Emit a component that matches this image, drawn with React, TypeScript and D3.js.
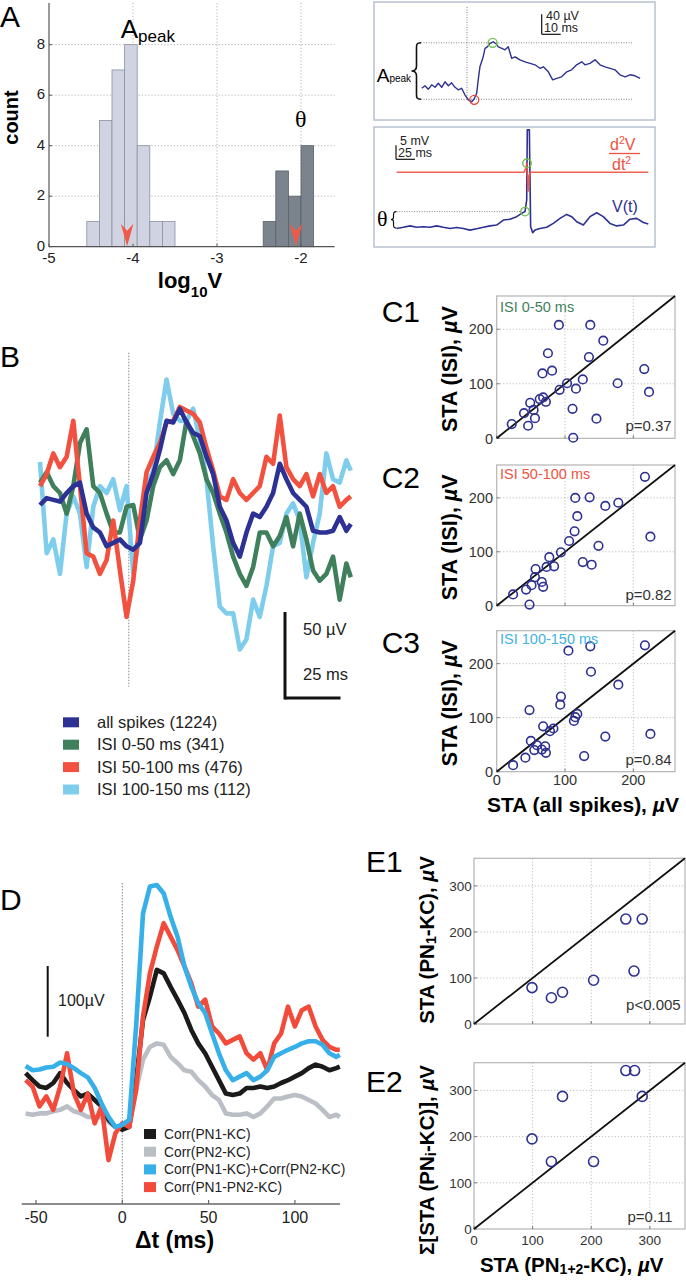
import React from 'react';
import * as d3 from 'd3';

const FONT = "'Liberation Sans', Arial, Helvetica, sans-serif";
const SERIF = "'Liberation Serif', 'DejaVu Serif', 'Times New Roman', serif";

// ---------- Panel A histogram ----------
const aLightEdges = [-4.55, -4.4, -4.25, -4.1, -3.95, -3.8, -3.65, -3.5];
const aLightCounts = [1, 5, 7, 8, 4, 1, 1];
const aDarkEdges = [-2.45, -2.3, -2.15, -2.0, -1.85];
const aDarkCounts = [1, 3, 2, 4];
const aMedians = [-4.07, -2.06];
const aXTicks = [-5, -4, -3, -2];
const aYTicks = [0, 2, 4, 6, 8];

// ---------- Panel A inset 1 (STA, ms / µV) ----------
const i1T = [-23.8, -22.1, -20.4, -18.6, -16.8, -15.1, -13.3, -11.6, -9.8, -8.1, -6.3, -4.6, -2.8, -1.1, 0.7, 2.5, 3.8, 5.1, 5.9, 6.8, 8.3, 9.5, 10.7, 12.1, 13.8, 15.3, 16.5, 18.3, 20, 21.7, 23.5, 25.3, 27.9, 30.5, 33.2, 35.8, 38.4, 40.2, 42.8, 45.1, 47.2, 49.8, 52.5, 55.1, 57.7, 60.4, 62.1, 64.7, 67.4, 70, 72.6, 75.3, 77.9, 80.5, 83.2, 85.8, 88.4, 91.1];
const i1V = [22, 27, 20, 29, 24, 32, 24, 35, 27, 33, 24, 19, 22, 9, -1, -5, 1, 12, 39, 65, 82, 102, 105, 112, 115, 111, 105, 102, 99, 105, 82, 85, 79, 75, 72, 69, 62, 65, 55, 39, 42, 45, 55, 59, 69, 75, 69, 72, 79, 69, 65, 62, 59, 49, 45, 49, 47, 42];

// ---------- Panel A inset 2 (V(t), ms / mV) ----------
const i2T = [-171.5, -162.7, -153.9, -145.2, -136.4, -127.6, -118.9, -110.1, -101.3, -92.5, -83.8, -75, -66.2, -57.5, -48.7, -39.9, -31.1, -22.4, -13.6, -7, -2.6, -0.4, 0.4, 3.1, 4.8, 7.5, 10.5, 17.1, 25.9, 34.6, 43.4, 52.2, 58.8, 65.4, 74.1, 82.9, 91.7, 100.4, 109.2, 118, 126.8, 135.5, 144.3, 153.1, 159.6];
const i2V = [-0.4, 0, 0.5, 0, 0.2, 0, 0.5, 0, -0.4, -0.1, -0.4, -1.0, -0.5, 0, 0.5, 0.8, 2.6, 2.9, 3.8, 5.0, 5.6, 9.8, 34.8, 34.8, 0.2, -1.9, -1.0, -0.4, 0, 1.4, 3.2, 4.6, 3.8, 2.0, 0.8, 3.8, 5.2, 3.8, 1.4, 0.5, 0.8, 2.9, 3.2, 1.7, 1.2];
const i2dT = [-171.5, -4, -1.5, 0, 1.5, 3, 4.5, 159.6];
const i2dV = [0, 0, 4, 9, -19, -3, 0, 0];

// ---------- Panel B (ms / µV) ----------
const bT = [-40, -37, -34, -31, -28, -25, -22, -19, -16, -13, -10, -7, -4, -1, 2, 5, 8, 11, 14, 17, 20, 23, 26, 29, 32, 35, 38, 41, 44, 47, 50, 53, 56, 59, 62, 65, 68, 71, 74, 77, 80, 83, 86, 89, 92, 95, 98, 100];
const bAll = [-1, 3, 2, 1, 6, 10, 12, -6, -14, -17, -25, -23, -21, -25, -27, -23, 6, 17, 31, 48, 47, 55, 47, 41, 39, 27, 17, -2, -10, -23, -31, -17, -6, -8, -2, 6, 23, 14, 6, 2, -2, -16, -17, -17, -16, -8, -16, -12];
const bIsi0 = [12, 18, 10, 6, -6, 10, 35, 43, 10, 6, -6, -17, -17, -2, -1, -21, -10, 10, 21, 25, 17, 25, 48, 39, 29, 14, 6, -6, -17, -31, -41, -48, -37, -17, -17, -25, -19, -8, -25, -6, -21, -39, -45, -41, -31, -56, -35, -43];
const bIsi50 = [10, 17, 29, 21, 27, 48, 10, -29, -31, -41, -33, -10, -39, -66, -45, -10, 18, 27, 35, 47, 48, 56, 54, 52, 47, 32, 19, 4, 2, 14, 6, 2, 6, 10, 27, 23, 51, 21, 14, 10, 17, 4, 17, 6, 10, -2, 2, 4];
const bIsi100 = [24, -29, -21, -41, -6, 4, -6, -37, -2, 10, 6, 14, -4, 10, -41, -17, 10, 19, 47, 72, 52, 48, 48, 55, 37, 14, -25, -60, -64, -64, -85, -79, -56, -66, -48, -25, -23, -6, 0, -10, -43, -23, -6, 29, 14, 12, 25, 19];
const bLegendLabels = ['all spikes (1224)', 'ISI 0-50 ms (341)', 'ISI 50-100 ms (476)', 'ISI 100-150 ms (112)'];
const bColors = ['#2c3193', '#3f7f5c', '#f2513f', '#7fcdec'];

// ---------- Panel C (µV) ----------
const c1X = [22, 40, 46, 49, 54, 56, 63, 68, 72, 67, 81, 75, 91, 92, 103, 116, 111, 112, 126, 135, 137, 156, 146, 177, 216, 223];
const c1Y = [26, 46, 23, 65, 52, 37, 72, 75, 67, 119, 124, 156, 208, 89, 101, 91, 54, 1, 108, 149, 208, 179, 36, 101, 127, 85];
const c2X = [24, 43, 48, 51, 56, 57, 66, 68, 73, 77, 84, 94, 106, 114, 118, 115, 136, 126, 139, 149, 159, 178, 217, 225];
const c2Y = [21, 30, 2, 38, 53, 68, 44, 35, 72, 90, 73, 99, 120, 138, 166, 200, 201, 81, 76, 111, 185, 191, 239, 128];
const c3X = [24, 42, 48, 50, 55, 59, 66, 68, 72, 71, 78, 83, 93, 94, 105, 113, 118, 115, 128, 137, 138, 159, 178, 217, 225];
const c3Y = [12, 26, 114, 57, 40, 49, 41, 84, 35, 47, 75, 80, 124, 139, 224, 94, 107, 101, 29, 232, 185, 65, 161, 234, 70];
const cTicks = [0, 100, 200];
const cLabels = ['ISI 0-50 ms', 'ISI 50-100 ms', 'ISI 100-150 ms'];
const cP = ['p=0.37', 'p=0.82', 'p=0.84'];

// ---------- Panel D (ms / µV) ----------
const dT = [-56, -52, -48, -44, -40, -36, -32, -28, -24, -20, -16, -12, -8, -4, 0, 4, 8, 12, 16, 20, 24, 28, 32, 36, 40, 44, 48, 52, 56, 60, 64, 68, 72, 76, 80, 84, 88, 92, 96, 100, 104, 108, 112, 116, 120, 124, 126];
const dPN1 = [71, 61, 52, 50, 57, 71, 57, 47, 38, 42, 33, 24, 5, -5, -9, -5, 61, 146, 179, 217, 212, 193, 175, 156, 132, 113, 99, 80, 61, 42, 40, 42, 50, 50, 52, 50, 52, 57, 61, 66, 71, 78, 83, 80, 75, 78, 80];
const dPN2 = [14, 12, 14, 14, 17, 19, 24, 17, 14, 9, 9, 9, 2, -5, -5, 0, 47, 90, 108, 113, 111, 94, 85, 75, 73, 61, 52, 40, 33, 14, 12, 12, 14, 9, 14, 24, 35, 35, 38, 40, 38, 33, 28, 19, 9, 12, 9];
const dSum = [81, 75, 76, 79, 80, 86, 84, 78, 71, 65, 50, 28, 9, -5, -2, 5, 137, 297, 335, 337, 325, 292, 264, 222, 193, 170, 156, 127, 99, 75, 61, 66, 71, 61, 66, 75, 94, 99, 104, 108, 113, 116, 116, 111, 99, 94, 97];
const dJoint = [61, 52, 24, 38, 19, 52, 99, 42, 19, 42, 0, 24, -52, -14, 0, -5, 47, 151, 212, 250, 283, 264, 245, 222, 198, 165, 175, 137, 127, 113, 118, 123, 99, 90, 99, 75, 113, 127, 165, 137, 160, 165, 137, 118, 108, 104, 104];
const dXTicks = [-50, 0, 50, 100];
const dLegendLabels = ['Corr(PN1-KC)', 'Corr(PN2-KC)', 'Corr(PN1-KC)+Corr(PN2-KC)', 'Corr(PN1-PN2-KC)'];
const dColors = ['#1b1b1b', '#babec5', '#37afe8', '#f24b3b'];

// ---------- Panel E (µV) ----------
const e1X = [99, 132, 151, 204, 259, 287, 273];
const e1Y = [79, 57, 69, 95, 228, 228, 115];
const e2X = [99, 132, 151, 204, 259, 274, 287];
const e2Y = [195, 146, 287, 146, 343, 343, 287];
const eTicks = [0, 100, 200, 300];

const DOTBLUE = '#2e3192';

function path(xs: number[], ys: number[], x: any, y: any): string {
  return (d3.line<number>().x((_, i) => x(xs[i])).y((v) => y(v))(ys) as string) || '';
}

function PanelA() {
  const x = d3.scaleLinear().domain([-5, -1.6]).range([49, 334.6]);
  const y = d3.scaleLinear().domain([0, 9.65]).range([246.7, 3]);
  const grid = '#a9a9a9';
  const bars = (edges: number[], counts: number[], fill: string, stroke: string, k: string) =>
    counts.map((c, i) => (
      <rect key={k + i} x={x(edges[i])} y={y(c)} width={x(edges[i + 1]) - x(edges[i])} height={y(0) - y(c)} fill={fill} stroke={stroke} strokeWidth={0.8} />
    ));
  return (
    <g>
      {aYTicks.filter((v) => v > 0).map((v) => (
        <line key={'gy' + v} x1={x(-5)} x2={x(-1.6)} y1={y(v)} y2={y(v)} stroke={grid} strokeDasharray="1.2,2" strokeWidth={0.9} />
      ))}
      {aXTicks.filter((v) => v > -5).map((v) => (
        <line key={'gx' + v} x1={x(v)} x2={x(v)} y1={y(9.65)} y2={y(0)} stroke={grid} strokeDasharray="1.2,2" strokeWidth={0.9} />
      ))}
      {bars(aLightEdges, aLightCounts, '#d0d4e2', '#8c919c', 'l')}
      {bars(aDarkEdges, aDarkCounts, '#7b838d', '#5b6169', 'd')}
      {aMedians.map((m, i) => {
        const cx = x(m);
        const yb = y(0) - 0.5;
        return <path key={'ar' + i} d={`M${cx},${yb} L${cx - 6.3},${yb - 22.5} L${cx},${yb - 15.5} L${cx + 6.3},${yb - 22.5} Z`} fill="#f15a48" />;
      })}
      <line x1={x(-5)} x2={x(-5)} y1={y(9.65)} y2={y(0)} stroke="#555" strokeWidth={1.2} />
      <line x1={x(-5)} x2={x(-1.6)} y1={y(0)} y2={y(0)} stroke="#555" strokeWidth={1.2} />
      {aYTicks.map((v) => (
        <g key={'yt' + v}>
          <line x1={x(-5)} x2={x(-5) + 3} y1={y(v)} y2={y(v)} stroke="#555" />
          <text x={45} y={y(v) - 1.5} dy="0.36em" textAnchor="end" fontSize={15} fill="#222">{v}</text>
        </g>
      ))}
      {aXTicks.map((v) => (
        <g key={'xt' + v}>
          <line x1={x(v)} x2={x(v)} y1={y(0)} y2={y(0) - 3} stroke="#555" />
          <text x={x(v)} y={263} textAnchor="middle" fontSize={15} fill="#222">{v}</text>
        </g>
      ))}
      <text x={0} y={27} fontSize={30}>A</text>
      <text x={120.7} y={38} fontSize={26}>A<tspan fontSize={17} dy={4}>peak</tspan></text>
      <text x={295} y={127} fontSize={24} fontFamily={SERIF}>θ</text>
      <text transform="translate(18.3,117.5) rotate(-90)" textAnchor="middle" fontWeight="bold" fontSize={20}>count</text>
      <text x={190} y={288} textAnchor="middle" fontWeight="bold" fontSize={22}>log<tspan fontSize={15} dy={9}>10</tspan><tspan dy={-9}>V</tspan></text>
    </g>
  );
}

function InsetA1() {
  const x = d3.scaleLinear().domain([0, 10]).range([467, 486]);
  const y = d3.scaleLinear().domain([0, 40]).range([99.3, 79.3]);
  const peakV = 113;
  const dot = '#777';
  const mid = (y(peakV) + y(0)) / 2;
  return (
    <g>
      <rect x={374} y={2} width={281} height={118} fill="none" stroke="#b7c2cf" strokeWidth={1.5} />
      <line x1={467} x2={467} y1={7} y2={100} stroke={dot} strokeDasharray="1,1.5" strokeWidth={0.9} />
      <line x1={421} x2={632} y1={y(peakV)} y2={y(peakV)} stroke={dot} strokeDasharray="1,1.5" strokeWidth={0.9} />
      <line x1={421} x2={632} y1={y(0)} y2={y(0)} stroke={dot} strokeDasharray="1,1.5" strokeWidth={0.9} />
      <path d={path(i1T, i1V, x, y)} fill="none" stroke={DOTBLUE} strokeWidth={1.4} strokeLinejoin="round" />
      <circle cx={x(3.8)} cy={y(-1)} r={4.5} fill="none" stroke="#e8473b" strokeWidth={1.3} />
      <circle cx={x(13.5)} cy={y(peakV)} r={4.5} fill="none" stroke="#6cbf4a" strokeWidth={1.3} />
      <path d={`M421,${y(peakV)} C416,${y(peakV)} 416.5,${y(peakV) + 2} 416.5,${y(peakV) + 7} L416.5,${mid - 5} C416.5,${mid - 1} 414.5,${mid} 411.5,${mid} C414.5,${mid} 416.5,${mid + 1} 416.5,${mid + 5} L416.5,${y(0) - 7} C416.5,${y(0) - 2} 416,${y(0)} 421,${y(0)}`} fill="none" stroke="#111" strokeWidth={1.6} />
      <text x={376.7} y={82} fontSize={19}>A<tspan fontSize={10}>peak</tspan></text>
      <line x1={541.7} x2={541.7} y1={34.3} y2={34.3 - (y(0) - y(40))} stroke="#111" strokeWidth={1.2} />
      <line x1={541.7} x2={541.7 + (x(10) - x(0))} y1={34.3} y2={34.3} stroke="#111" strokeWidth={1.2} />
      <text x={546} y={20} fontSize={12.5} fill="#222">40 µV</text>
      <text x={544} y={32} fontSize={12.5} fill="#222">10 ms</text>
    </g>
  );
}

function InsetA2() {
  const x = d3.scaleLinear().domain([0, 25]).range([527, 546]);
  const y = d3.scaleLinear().domain([0, 5]).range([227.3, 213.3]);
  const yd = d3.scaleLinear().domain([0, 10]).range([172.3, 162.3]);
  const theta = 5.6;
  const ty = y(theta);
  return (
    <g>
      <rect x={374} y={127} width={281} height={120} fill="none" stroke="#b7c2cf" strokeWidth={1.5} />
      <line x1={x(-171.5)} x2={x(-2.6) - 3} y1={ty} y2={ty} stroke="#777" strokeDasharray="1,1.5" strokeWidth={0.9} />
      <path d={path(i2T, i2V, x, y)} fill="none" stroke={DOTBLUE} strokeWidth={1.6} strokeLinejoin="round" />
      <path d={path(i2dT, i2dV, x, yd)} fill="none" stroke="#f0503e" strokeWidth={1.6} strokeLinejoin="round" opacity={0.9} />
      <circle cx={x(0)} cy={yd(9)} r={4.3} fill="none" stroke="#6cbf4a" strokeWidth={1.3} />
      <circle cx={x(-2.6)} cy={ty} r={4.3} fill="none" stroke="#6cbf4a" strokeWidth={1.3} />
      <line x1={396} x2={396} y1={159.3} y2={159.3 - (y(0) - y(5))} stroke="#111" strokeWidth={1.2} />
      <line x1={396} x2={396 + (x(25) - x(0))} y1={159.3} y2={159.3} stroke="#111" strokeWidth={1.2} />
      <text x={400} y={145} fontSize={12.5} fill="#222">5 mV</text>
      <text x={398} y={157} fontSize={12.5} fill="#222">25 ms</text>
      <text x={610} y={150} fontSize={16} fill="#f0503e">d<tspan fontSize={10.5} dy={-6}>2</tspan><tspan dy={6}>V</tspan></text>
      <line x1={609} x2={640} y1={153.5} y2={153.5} stroke="#f0503e" strokeWidth={1.3} />
      <text x={612} y={170} fontSize={16} fill="#f0503e">dt<tspan fontSize={10.5} dy={-6}>2</tspan></text>
      <text x={612} y={212} fontSize={16} fill={DOTBLUE}>V(t)</text>
      <text x={377} y={226} fontSize={22} fontFamily={SERIF}>θ</text>
      <path d={`M396.5,${ty} C393.5,${ty} 393.5,${ty + 1.5} 393.5,${ty + 4} L393.5,${ty + 6} C393.5,${ty + 7.5} 392.5,${ty + 8} 391,${ty + 8} C392.5,${ty + 8} 393.5,${ty + 8.5} 393.5,${ty + 10} L393.5,${ty + 12.5} C393.5,${ty + 15} 393.5,${ty + 16.5} 396.5,${ty + 16.5}`} fill="none" stroke="#111" strokeWidth={1.2} />
    </g>
  );
}

function PanelB() {
  const x = d3.scaleLinear().domain([0, 25]).range([128.8, 184.3]);
  const y = d3.scaleLinear().domain([0, 50]).range([503.3, 417.3]);
  const series = [bIsi100, bIsi0, bIsi50, bAll];
  const cols = [bColors[3], bColors[1], bColors[2], bColors[0]];
  const sbX = 285;
  const sbY = 698;
  return (
    <g>
      <text x={0} y={367} fontSize={30}>B</text>
      <line x1={x(0)} x2={x(0)} y1={352.7} y2={686.7} stroke="#888" strokeDasharray="1.5,1.5" strokeWidth={1} />
      {series.map((s, i) => (
        <path key={'b' + i} d={path(bT, s, x, y)} fill="none" stroke={cols[i]} strokeWidth={4.6} strokeLinejoin="round" />
      ))}
      <line x1={sbX} x2={sbX} y1={sbY + 1.5} y2={sbY - (y(0) - y(50))} stroke="#111" strokeWidth={3} />
      <line x1={sbX} x2={sbX + (x(25) - x(0))} y1={sbY} y2={sbY} stroke="#111" strokeWidth={3} />
      <text x={303} y={635} fontSize={16.5} fill="#222">50 µV</text>
      <text x={303} y={680} fontSize={16.5} fill="#222">25 ms</text>
      {bLegendLabels.map((l, i) => {
        const cy = 722.3 + i * 22.4;
        return (
          <g key={'bl' + i}>
            <rect x={63} y={cy - 5} width={16} height={10} fill={bColors[i]} />
            <text x={97} y={cy + 5.5} fontSize={16.5} fill="#222">{l}</text>
          </g>
        );
      })}
    </g>
  );
}

type ScatterProps = {
  l: number; r: number; t: number; b: number; max: number;
  xs: number[]; ys: number[]; ticks: number[]; showX: boolean;
  tickFont: number; yTickX: number; xTickY: number; rad: number;
  p: string; pX: number; pY: number;
  tag?: string; tagColor?: string; tagX?: number; tagY?: number;
};

function Scatter(props: ScatterProps) {
  const { l, r, t, b, max, xs, ys, ticks, showX, tickFont, yTickX, xTickY, rad, p, pX, pY, tag, tagColor, tagX, tagY } = props;
  const x = d3.scaleLinear().domain([0, max]).range([l, r]);
  const y = d3.scaleLinear().domain([0, max]).range([b, t]);
  const grid = '#b8b8b8';
  return (
    <g>
      {ticks.filter((v) => v > 0).map((v) => (
        <g key={'g' + v}>
          <line x1={l} x2={r} y1={y(v)} y2={y(v)} stroke={grid} strokeDasharray="1.2,2" strokeWidth={0.9} />
          <line x1={x(v)} x2={x(v)} y1={t} y2={b} stroke={grid} strokeDasharray="1.2,2" strokeWidth={0.9} />
        </g>
      ))}
      <rect x={l} y={t} width={r - l} height={b - t} fill="none" stroke="#b4b4b4" strokeWidth={1.2} />
      {ticks.map((v) => (
        <g key={'t' + v}>
          <line x1={l} x2={l + 3} y1={y(v)} y2={y(v)} stroke="#777" />
          <line x1={x(v)} x2={x(v)} y1={b} y2={b - 3} stroke="#777" />
          <text x={yTickX} y={y(v)} dy="0.36em" textAnchor="end" fontSize={tickFont} fill="#333">{v}</text>
          {showX && <text x={x(v)} y={xTickY} textAnchor="middle" fontSize={tickFont} fill="#333">{v}</text>}
        </g>
      ))}
      <line x1={x(0)} y1={y(0)} x2={x(max)} y2={y(max)} stroke="#111" strokeWidth={1.8} />
      {xs.map((v, i) => (
        <circle key={'c' + i} cx={x(v)} cy={y(ys[i])} r={rad} fill="none" stroke={DOTBLUE} strokeWidth={1.6} />
      ))}
      {tag && <text x={tagX} y={tagY} fontSize={14.5} fill={tagColor}>{tag}</text>}
      <text x={pX} y={pY} textAnchor="end" fontSize={15} fill="#333">{p}</text>
    </g>
  );
}

function PanelC() {
  const tops = [296, 465, 630.7];
  const bots = [438.3, 605.7, 771.7];
  const data = [[c1X, c1Y], [c2X, c2Y], [c3X, c3Y]];
  const tagColors = ['#3f7f5c', '#f2513f', '#3fb2e0'];
  const tagY = [311.7, 479.3, 644.3];
  const pY = [430.7, 600, 765];
  const labelBase = [321.7, 488, 653];
  return (
    <g>
      {data.map((d, i) => (
        <g key={'c' + i}>
          <Scatter l={496.7} r={675} t={tops[i]} b={bots[i]} max={261} xs={d[0]} ys={d[1]} ticks={cTicks} showX={i === 2}
            tickFont={14.5} yTickX={493} xTickY={785} rad={4.3} p={cP[i]} pX={671.7} pY={pY[i]}
            tag={cLabels[i]} tagColor={tagColors[i]} tagX={500} tagY={tagY[i]} />
          <text x={381.7} y={labelBase[i]} fontSize={30}>{'C' + (i + 1)}</text>
          <text transform={`translate(457,${(tops[i] + bots[i]) / 2 + 2}) rotate(-90)`} textAnchor="middle" fontWeight="bold" fontSize={21.5}>
            STA (ISI), <tspan fontStyle="italic">µ</tspan>V
          </text>
        </g>
      ))}
      <text x={583} y={812} textAnchor="middle" fontWeight="bold" fontSize={21}>STA (all spikes), <tspan fontStyle="italic">µ</tspan>V</text>
    </g>
  );
}

function PanelD() {
  const x = d3.scaleLinear().domain([0, 50]).range([122.3, 208.6]);
  const y = d3.scaleLinear().domain([0, 100]).range([1123.3, 1052.6]);
  const series = [dPN2, dPN1, dJoint, dSum];
  const cols = [dColors[1], dColors[0], dColors[3], dColors[2]];
  const axisY = 1204;
  return (
    <g>
      <text x={0} y={910} fontSize={30}>D</text>
      <line x1={x(0)} x2={x(0)} y1={883} y2={1202} stroke="#888" strokeDasharray="1.5,1.5" strokeWidth={1} />
      {series.map((s, i) => (
        <path key={'d' + i} d={path(dT, s, x, y)} fill="none" stroke={cols[i]} strokeWidth={4.6} strokeLinejoin="round" />
      ))}
      <line x1={47.7} x2={47.7} y1={966} y2={966 + (y(0) - y(100))} stroke="#111" strokeWidth={2} />
      <text x={58} y={1006} fontSize={16} fill="#222">100µV</text>
      <line x1={21.7} x2={340} y1={axisY} y2={axisY} stroke="#666" strokeWidth={1.5} />
      {dXTicks.map((v) => (
        <g key={'dt' + v}>
          <line x1={x(v)} x2={x(v)} y1={axisY} y2={axisY - 4} stroke="#666" strokeWidth={1.2} />
          <text x={x(v)} y={1223.3} textAnchor="middle" fontSize={16} fill="#222">{v}</text>
        </g>
      ))}
      <text x={174.5} y={1248} textAnchor="middle" fontWeight="bold" fontSize={23}>Δt (ms)</text>
      {dLegendLabels.map((l, i) => {
        const cy = 1134 + i * 17.7;
        return (
          <g key={'dl' + i}>
            <rect x={144} y={cy - 5} width={12} height={10} fill={dColors[i]} />
            <text x={164} y={cy + 5} fontSize={13.8} fill="#222">{l}</text>
          </g>
        );
      })}
    </g>
  );
}

function PanelE() {
  return (
    <g>
      <Scatter l={474} r={685} t={858.3} b={1024} max={360} xs={e1X} ys={e1Y} ticks={eTicks} showX={false}
        tickFont={13.5} yTickX={471.7} xTickY={1245} rad={5} p="p<0.005" pX={680.7} pY={1010} />
      <Scatter l={474} r={685} t={1062.7} b={1229} max={360} xs={e2X} ys={e2Y} ticks={eTicks} showX={true}
        tickFont={13.5} yTickX={471.7} xTickY={1245} rad={5} p="p=0.11" pX={672.7} pY={1221.7} />
      <text x={366} y={871.7} fontSize={30}>E1</text>
      <text x={366} y={1091.7} fontSize={30}>E2</text>
      <text transform="translate(434,940) rotate(-90)" textAnchor="middle" fontWeight="bold" fontSize={20.5}>
        STA (PN<tspan fontSize={14} dy={2}>1</tspan><tspan dy={-2}>-KC), </tspan><tspan fontStyle="italic">µ</tspan>V
      </text>
      <text transform="translate(434,1160) rotate(-90)" textAnchor="middle" fontWeight="bold" fontSize={20.5}>
        Σ[STA (PN<tspan fontSize={15} dy={2}>i</tspan><tspan dy={-2}>-KC)], </tspan><tspan fontStyle="italic">µ</tspan>V
      </text>
      <text x={571.7} y={1272} textAnchor="middle" fontWeight="bold" fontSize={20.5}>
        STA (PN<tspan fontSize={14} dy={2}>1+2</tspan><tspan dy={-2}>-KC), </tspan><tspan fontStyle="italic">µ</tspan>V
      </text>
    </g>
  );
}

export default function App() {
  return (
    <svg width={686} height={1280} viewBox="0 0 686 1280" style={{ position: 'absolute', left: 0, top: 0, background: '#fff' }} fontFamily={FONT}>
      <rect width={686} height={1280} fill="#fff" />
      <PanelA />
      <InsetA1 />
      <InsetA2 />
      <PanelB />
      <PanelC />
      <PanelD />
      <PanelE />
    </svg>
  );
}
